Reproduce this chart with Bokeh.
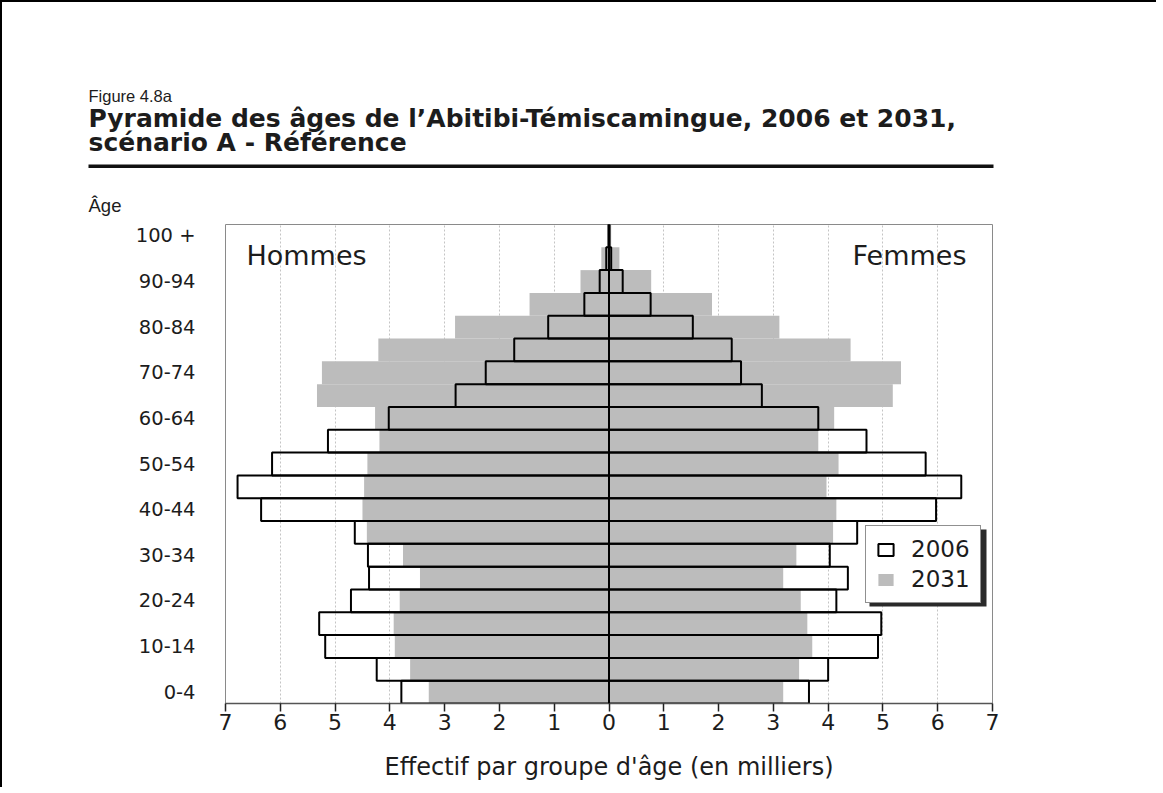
from bokeh.plotting import figure
from bokeh.models import (Range1d, Label, BoxAnnotation, Span, Legend, LegendItem,
                          FixedTicker, ColumnDataSource)
from bokeh.embed import file_html
from bokeh.resources import INLINE

# ---------------- data (thousands) ----------------
age_groups = ["0-4", "5-9", "10-14", "15-19", "20-24", "25-29", "30-34", "35-39",
              "40-44", "45-49", "50-54", "55-59", "60-64", "65-69", "70-74",
              "75-79", "80-84", "85-89", "90-94", "95-99", "100 +"]
men_2006 = [3.79, 4.24, 5.18, 5.29, 4.71, 4.38, 4.40, 4.64, 6.35, 6.78, 6.15,
            5.13, 4.02, 2.80, 2.25, 1.73, 1.11, 0.45, 0.17, 0.05, 0.01]
men_2031 = [3.29, 3.63, 3.91, 3.93, 3.82, 3.45, 3.76, 4.42, 4.50, 4.47, 4.41,
            4.19, 4.27, 5.33, 5.24, 4.21, 2.81, 1.45, 0.52, 0.14, 0.02]
women_2006 = [3.65, 4.00, 4.91, 4.97, 4.15, 4.36, 4.03, 4.53, 5.97, 6.43, 5.78,
              4.70, 3.82, 2.79, 2.41, 2.24, 1.53, 0.76, 0.25, 0.04, 0.01]
women_2031 = [3.18, 3.47, 3.71, 3.62, 3.50, 3.18, 3.42, 4.09, 4.15, 3.97, 4.19,
              3.82, 4.11, 5.18, 5.33, 4.41, 3.11, 1.88, 0.77, 0.19, 0.04]
x_ticks = list(range(-7, 8))
y_label_every = 2

fig_label = "Figure 4.8a"
title_lines = ["Pyramide des âges de l’Abitibi-Témiscamingue, 2006 et 2031,",
               "scénario A - Référence"]
x_title = "Effectif par groupe d'âge (en milliers)"

SANS = "Liberation Sans"
WIDE = "DejaVu Sans"
GRAY = "#bcbcbc"
INK = "#1c1c1c"

W = 1156
HEAD_H = 216
MAIN_H = 571
BORDER = "2px solid #000000"

# ---------------- header (title block, its own root) ----------------
head = figure(width=W, height=HEAD_H, output_backend="svg", toolbar_location=None,
              x_range=Range1d(0, W), y_range=Range1d(HEAD_H, 0),
              x_axis_type=None, y_axis_type=None, min_border=0)
head.outline_line_color = None
head.background_fill_color = "white"
head.border_fill_color = "white"
head.styles = {"border-left": BORDER, "border-top": BORDER}


def hlab(text, x, y, size, font, style="normal"):
    head.add_layout(Label(text=text, x=x, y=y, text_font=font, text_font_size=size,
                          text_font_style=style, text_align="left",
                          text_baseline="middle", text_color=INK))


hlab(fig_label, 86, 93, "16.5px", SANS)
hlab(title_lines[0], 86, 115.5, "25px", WIDE, "bold")
hlab(title_lines[1], 86, 139.5, "25px", WIDE, "bold")
hlab("Âge", 86, 203, "18.5px", SANS)
head.add_layout(BoxAnnotation(left=86, right=991, top=162, bottom=165.5,
                              fill_color="#111111", fill_alpha=1, line_color=None))

# ---------------- pyramid ----------------
idx = list(range(len(age_groups)))
src = ColumnDataSource(dict(
    y=idx,
    m06=[-v for v in men_2006], m31=[-v for v in men_2031],
    f06=women_2006, f31=women_2031,
))

p = figure(width=W, height=MAIN_H, output_backend="svg", toolbar_location=None,
           x_range=Range1d(-7, 7), y_range=Range1d(-0.5, len(age_groups) - 0.5),
           min_border_left=223, min_border_right=W - 990, min_border_top=8,
           min_border_bottom=84)
p.styles = {"border-left": BORDER}
p.background_fill_color = "white"
p.border_fill_color = "white"
p.outline_line_color = "#8a8a8a"
p.outline_line_width = 1

r31 = p.hbar(y="y", left="m31", right=0, height=1, source=src,
             fill_color=GRAY, line_color=None)
p.hbar(y="y", left=0, right="f31", height=1, source=src,
       fill_color=GRAY, line_color=None)
r06 = p.hbar(y="y", left="m06", right=0, height=1, source=src,
             fill_alpha=0, line_color="black", line_width=2)
p.hbar(y="y", left=0, right="f06", height=1, source=src,
       fill_alpha=0, line_color="black", line_width=2)

p.add_layout(Span(location=0, dimension="height", line_color="black", line_width=2))

p.xaxis.ticker = FixedTicker(ticks=x_ticks)
p.xaxis.major_label_overrides = {t: str(abs(t)) for t in x_ticks}
p.xaxis.major_label_text_font = WIDE
p.xaxis.major_label_text_font_size = "22px"
p.xaxis.major_label_text_color = INK
p.xaxis.major_tick_out = 8
p.xaxis.major_tick_in = 0
p.xaxis.major_tick_line_color = "#222222"
p.xaxis.major_tick_line_width = 1.5
p.xaxis.minor_tick_line_color = None
p.xaxis.axis_line_color = "#555555"
p.xaxis.axis_line_width = 1.5
p.xaxis.major_label_standoff = 2
p.xaxis.axis_label = x_title
p.xaxis.axis_label_text_font = WIDE
p.xaxis.axis_label_text_font_style = "normal"
p.xaxis.axis_label_text_font_size = "24px"
p.xaxis.axis_label_text_color = INK
p.xaxis.axis_label_standoff = 20

y_ticks = idx[::y_label_every]
p.yaxis.ticker = FixedTicker(ticks=y_ticks)
p.yaxis.major_label_overrides = {i: age_groups[i] for i in y_ticks}
p.yaxis.major_label_text_font = WIDE
p.yaxis.major_label_text_font_size = "19.5px"
p.yaxis.major_label_text_color = INK
p.yaxis.major_tick_line_color = None
p.yaxis.minor_tick_line_color = None
p.yaxis.axis_line_color = None
p.yaxis.major_label_standoff = 24

p.xgrid.ticker = FixedTicker(ticks=x_ticks)
p.xgrid.grid_line_color = "#c4c4c4"
p.xgrid.grid_line_dash = "2 2"
p.xgrid.grid_line_width = 1
p.ygrid.grid_line_color = None


def plab(text, x, y, size, align="left"):
    p.add_layout(Label(text=text, x=x, y=y, x_units="screen", y_units="screen",
                       text_font=WIDE, text_font_size=size, text_align=align,
                       text_baseline="middle", text_color=INK))


plab("Hommes", 21, 448, "27px")
plab("Femmes", 741, 448, "27px", align="right")

# legend with drop shadow (screen units, relative to the frame)
LEG_X, LEG_Y, LEG_W, LEG_H = 640, 100, 118, 78
p.add_layout(BoxAnnotation(left=LEG_X + 4, right=LEG_X + LEG_W + 3,
                           bottom=LEG_Y - 3, top=LEG_Y + LEG_H - 4,
                           left_units="screen", right_units="screen",
                           top_units="screen", bottom_units="screen",
                           fill_color="#2a2a2a", fill_alpha=1, line_color=None))
legend = Legend(items=[LegendItem(label="2006", renderers=[r06]),
                       LegendItem(label="2031", renderers=[r31])],
                location=(LEG_X, LEG_Y), orientation="vertical",
                label_text_font=WIDE, label_text_font_size="23px",
                label_text_color=INK, label_height=24, label_standoff=16,
                glyph_width=19, glyph_height=15, spacing=4, padding=10, margin=0,
                border_line_color="#222222", border_line_width=1.5,
                background_fill_color="white", background_fill_alpha=1)
p.add_layout(legend)

open("out.html", "w").write(file_html([head, p], INLINE))
